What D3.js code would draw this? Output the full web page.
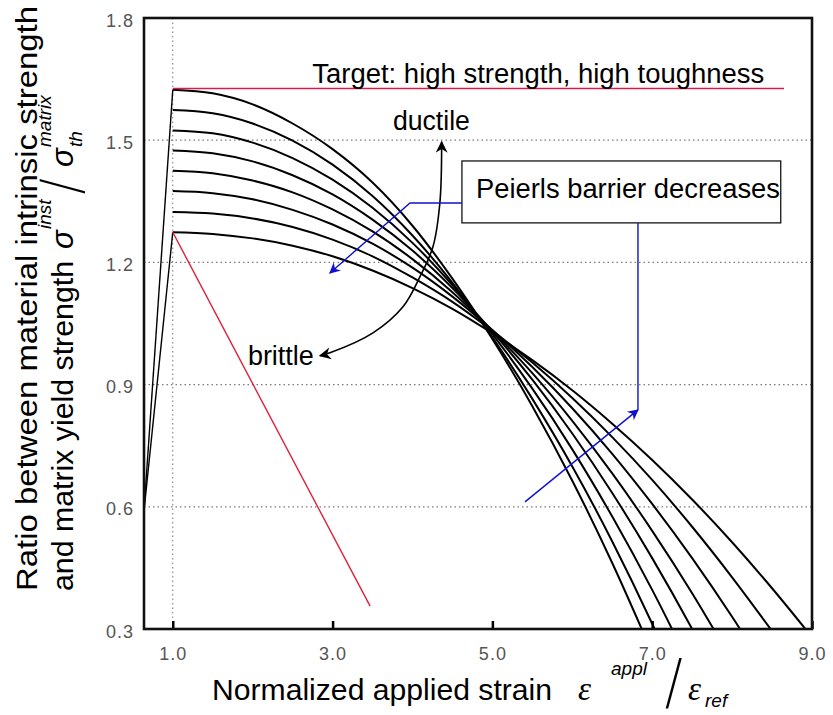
<!DOCTYPE html>
<html>
<head>
<meta charset="utf-8">
<script src="https://cdn.jsdelivr.net/npm/d3@7"></script>
<style>
  html, body { margin: 0; padding: 0; background: #fff; }
  svg { display: block; font-family: "Liberation Sans", Arial, sans-serif; }
</style>
</head>
<body>
<svg id="chart" width="833" height="715"></svg>
<script>
// Normalized applied strain sampled along each curve
const strain = [1.0, 1.5, 2.0, 2.5, 3.0, 3.5, 4.0, 4.5, 5.0, 5.5, 6.0, 6.5, 7.0, 7.5, 8.0, 8.5, 9.0];

// Strength ratio curves, from the highest Peierls barrier (top) to the lowest
const curve1 = [1.624, 1.615, 1.588, 1.541, 1.478, 1.396, 1.290, 1.160, 1.012, 0.847, 0.664, 0.462, 0.241];
const curve2 = [1.574, 1.566, 1.541, 1.499, 1.440, 1.363, 1.266, 1.150, 1.016, 0.865, 0.699, 0.515, 0.313, 0.093];
const curve3 = [1.524, 1.517, 1.494, 1.456, 1.403, 1.334, 1.248, 1.144, 1.024, 0.890, 0.741, 0.576, 0.396, 0.200];
const curve4 = [1.475, 1.468, 1.448, 1.414, 1.367, 1.305, 1.229, 1.137, 1.030, 0.912, 0.780, 0.634, 0.474, 0.300, 0.112];
const curve5 = [1.425, 1.419, 1.401, 1.372, 1.330, 1.276, 1.208, 1.127, 1.032, 0.928, 0.811, 0.682, 0.541, 0.388, 0.222];
const curve6 = [1.375, 1.370, 1.355, 1.329, 1.293, 1.246, 1.187, 1.116, 1.034, 0.943, 0.842, 0.730, 0.607, 0.474, 0.330, 0.175];
const curve7 = [1.324, 1.320, 1.308, 1.287, 1.256, 1.215, 1.163, 1.103, 1.032, 0.954, 0.867, 0.771, 0.666, 0.551, 0.427, 0.295];
const curve8 = [1.274, 1.270, 1.259, 1.241, 1.215, 1.180, 1.137, 1.086, 1.026, 0.960, 0.886, 0.804, 0.715, 0.618, 0.513, 0.400, 0.280];

// Elastic loading branches
const loadStrain = [0.64, 1.0];
const loadUpper = [0.59, 1.624];
const loadLower = [0.59, 1.274];

// Brittle failure branch and the target level
const brittleStrain = [1.0, 3.47];
const brittleStress = [1.274, 0.356];
const targetStrain = [1.0, 8.65];
const targetLevel = 1.627;

// Axis ticks
const xTicks = [1.0, 3.0, 5.0, 7.0, 9.0];
const yTicks = [0.3, 0.6, 0.9, 1.2, 1.5, 1.8];
const yGrid = [0.6, 0.9, 1.2, 1.5];

const svg = d3.select("#chart");
const plotLeft = 144, plotRight = 812, plotTop = 18, plotBottom = 629;

const x = d3.scaleLinear().domain([0.64, 9.0]).range([plotLeft, plotRight]);
const y = d3.scaleLinear().domain([0.3, 1.8]).range([plotBottom, plotTop]);

// Arrow markers and plot clip
const defs = svg.append("defs");
defs.append("clipPath").attr("id", "plotClip")
  .append("rect").attr("x", plotLeft).attr("y", plotTop)
  .attr("width", plotRight - plotLeft).attr("height", plotBottom - plotTop);

function marker(id, color, w, h) {
  defs.append("marker").attr("id", id)
    .attr("viewBox", "0 0 10 10").attr("refX", 9).attr("refY", 5)
    .attr("markerWidth", w).attr("markerHeight", h)
    .attr("markerUnits", "userSpaceOnUse")
    .attr("orient", "auto-start-reverse")
    .append("path").attr("d", "M0,0 L10,5 L0,10 L3,5 Z").attr("fill", color);
}
marker("arrowBlue", "#1010d0", 13, 11);
marker("arrowBlack", "#000", 14, 12);

// Grid lines
const grid = svg.append("g").attr("stroke", "#7a7a7a").attr("stroke-width", 1.2)
  .attr("stroke-dasharray", "1.5,3");
grid.selectAll("line.h").data(yGrid).join("line").attr("class", "h")
  .attr("x1", plotLeft).attr("x2", plotRight)
  .attr("y1", d => y(d)).attr("y2", d => y(d));
grid.append("line")
  .attr("x1", x(1.0)).attr("x2", x(1.0))
  .attr("y1", plotTop).attr("y2", plotBottom)
  .attr("stroke-width", 1);

// Axes
const xAxis = svg.append("g").attr("transform", `translate(0,${plotBottom})`)
  .call(d3.axisBottom(x).tickValues(xTicks).tickFormat(d3.format(".1f"))
    .tickSizeInner(-8).tickSizeOuter(0).tickPadding(18));
xAxis.select(".domain").remove();
xAxis.selectAll(".tick line").attr("stroke", "#000").attr("stroke-width", 2.5);
xAxis.selectAll(".tick text").attr("font-size", 18).attr("fill", "#555")
  .attr("font-family", "Liberation Sans, Arial, sans-serif")
  .attr("letter-spacing", 1);

const yAxis = svg.append("g").attr("transform", `translate(${plotLeft},0)`)
  .call(d3.axisLeft(y).tickValues(yTicks).tickFormat(d3.format(".1f"))
    .tickSize(0).tickPadding(10));
yAxis.select(".domain").remove();
yAxis.selectAll(".tick text").attr("font-size", 18).attr("fill", "#555")
  .attr("font-family", "Liberation Sans, Arial, sans-serif")
  .attr("letter-spacing", 1).attr("dy", "0.45em");

// Data lines
const plot = svg.append("g").attr("clip-path", "url(#plotClip)");
const smooth = d3.line().x(d => x(d[0])).y(d => y(d[1])).curve(d3.curveMonotoneX);
const straight = d3.line().x(d => x(d[0])).y(d => y(d[1]));
const pair = (xs, ys) => ys.map((v, i) => [xs[i], v]);

const curves = [curve1, curve2, curve3, curve4, curve5, curve6, curve7, curve8];
plot.selectAll("path.curve").data(curves).join("path").attr("class", "curve")
  .attr("d", c => smooth(pair(strain, c)))
  .attr("fill", "none").attr("stroke", "#000").attr("stroke-width", 2);

[loadUpper, loadLower].forEach(ys => {
  plot.append("path").attr("d", straight(pair(loadStrain, ys)))
    .attr("fill", "none").attr("stroke", "#000").attr("stroke-width", 1.4);
});

plot.append("path").attr("d", straight(pair(brittleStrain, brittleStress)))
  .attr("fill", "none").attr("stroke", "#e0203a").attr("stroke-width", 1.4);
plot.append("path").attr("d", straight(pair(targetStrain, [targetLevel, targetLevel])))
  .attr("fill", "none").attr("stroke", "#d81b4a").attr("stroke-width", 1.5);

// Frame
svg.append("rect").attr("x", plotLeft).attr("y", plotTop)
  .attr("width", plotRight - plotLeft).attr("height", plotBottom - plotTop)
  .attr("fill", "none").attr("stroke", "#111").attr("stroke-width", 2.6);

// Annotations
const ann = svg.append("g").attr("font-size", 27).attr("fill", "#000");
ann.append("text").attr("x", x(2.746)).attr("y", y(1.640))
  .text("Target: high strength, high toughness")
  .attr("textLength", 452).attr("lengthAdjust", "spacingAndGlyphs");
ann.append("text").attr("x", x(3.755)).attr("y", y(1.525)).text("ductile")
  .attr("textLength", 77).attr("lengthAdjust", "spacingAndGlyphs");
ann.append("text").attr("x", x(1.94)).attr("y", y(0.948)).text("brittle")
  .attr("textLength", 66).attr("lengthAdjust", "spacingAndGlyphs");

// Ductile / brittle double arrow
const swing = [[4.365, 1.496], [4.344, 1.349], [4.257, 1.239], [4.094, 1.165],
               [3.881, 1.091], [3.506, 1.027], [2.967, 0.978], [2.842, 0.971]];
svg.append("path").attr("d", d3.line().x(d => x(d[0])).y(d => y(d[1]))
    .curve(d3.curveCatmullRom)(swing))
  .attr("fill", "none").attr("stroke", "#000").attr("stroke-width", 1.6)
  .attr("marker-start", "url(#arrowBlack)").attr("marker-end", "url(#arrowBlack)");

// Peierls barrier callout
const callout = svg.append("g");
callout.append("rect").attr("x", x(4.619)).attr("y", y(1.449))
  .attr("width", x(8.609) - x(4.619)).attr("height", y(1.297) - y(1.449))
  .attr("fill", "#fff").attr("stroke", "#000").attr("stroke-width", 1.2);
callout.append("text").attr("x", x(4.795)).attr("y", y(1.358)).attr("font-size", 27)
  .text("Peierls barrier decreases")
  .attr("textLength", 304).attr("lengthAdjust", "spacingAndGlyphs");

const blue = svg.append("g").attr("fill", "none").attr("stroke", "#1010d0").attr("stroke-width", 1.4);
blue.append("path").attr("d", straight([[4.619, 1.346], [3.969, 1.346], [2.967, 1.174]]))
  .attr("marker-end", "url(#arrowBlue)");
blue.append("path").attr("d", straight([[6.822, 1.297], [6.822, 0.838]]));
blue.append("path").attr("d", straight([[5.408, 0.612], [6.822, 0.838]]))
  .attr("marker-end", "url(#arrowBlue)");

// Pieces of a math label: [text, u, v, size, italic, family, weight]
function mathPieces(g, pieces) {
  pieces.forEach(([t, u, v, size, italic, fam, weight]) => {
    g.append("text").attr("x", u).attr("y", v).attr("font-size", size)
      .attr("font-style", italic ? "italic" : "normal")
      .attr("font-family", fam || "Liberation Sans, Arial, sans-serif")
      .attr("font-weight", weight || 400)
      .text(t);
  });
}
const serif = "Liberation Serif, serif";
const thin = "Inter, Lato, Liberation Sans, sans-serif";

// X axis title
const xt = svg.append("g").attr("transform", "translate(212,700)");
xt.append("text").attr("font-size", 29).text("Normalized applied strain")
  .attr("textLength", 340).attr("lengthAdjust", "spacingAndGlyphs");
mathPieces(xt, [
  ["ε", 366, 0, 33, true, serif],
  ["appl", 399, -25, 19, true],
  ["/", 452, 2, 58, false, thin, 200],
  ["ε", 476, 0, 33, true, serif],
  ["ref", 493, 7, 19, true]
]);

// Y axis title (two lines, rotated)
svg.append("text").attr("transform", "translate(37,591) rotate(-90)")
  .attr("font-size", 29).text("Ratio between material intrinsic strength")
  .attr("textLength", 585).attr("lengthAdjust", "spacingAndGlyphs");

const yt = svg.append("g").attr("transform", "translate(73,591) rotate(-90)");
yt.append("text").attr("font-size", 29).text("and matrix yield strength")
  .attr("textLength", 330).attr("lengthAdjust", "spacingAndGlyphs");
mathPieces(yt, [
  ["σ", 342, 0, 31, true],
  ["inst", 362, -22, 19, true],
  ["/", 396, 6, 52, false, thin, 200],
  ["σ", 424, 0, 31, true],
  ["th", 444, 9, 19, true],
  ["matrix", 444, -22, 19, true]
]);
</script>
</body>
</html>
